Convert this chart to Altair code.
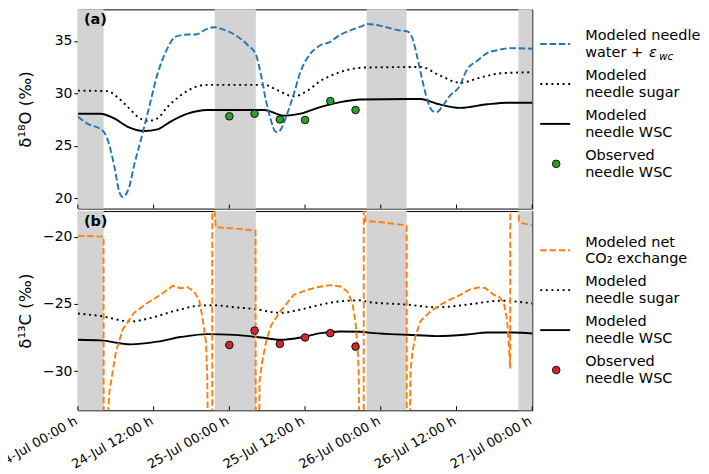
import json
import altair as alt
import pandas as pd

FONT = "DejaVu Sans"
W, H = 455, 199.5

# ---------------- data ----------------
tick_hours = [0, 12, 24, 36, 48, 60, 72]
tick_labels = ["24-Jul 00:00 h", "24-Jul 12:00 h", "25-Jul 00:00 h", "25-Jul 12:00 h",
               "26-Jul 00:00 h", "26-Jul 12:00 h", "27-Jul 00:00 h"]

night_start = [0.0, 21.7, 45.75, 69.8]
night_end = [4.07, 28.2, 52.1, 72.0]

# (a) delta 18O
water_h = [0, 1.5, 3.9, 4.7, 5.75, 6.55, 7.1, 8.1, 8.9, 10, 11.3, 12.6, 14.2, 15.5, 17.4, 18.7, 20.3, 21.6,
           22.9, 24.8, 26.9, 28.2, 29.0, 29.8, 30.6, 31.3, 31.7, 32.1, 33.2, 34.2, 35.3, 36.4, 38.5, 40,
           41.1, 43.2, 44.8, 45.9, 48.5, 50.9, 52.2, 53.0, 53.8, 54.6, 55.4, 56.2, 56.9, 57.7, 59.0, 60.4,
           61.7, 63.3, 64.9, 66.4, 68.5, 72]
water_v = [27.75, 27.1, 26.45, 25.6, 23.1, 20.6, 20.1, 21.0, 23.1, 25.6, 28.7, 31.8, 34.3, 35.4, 35.6, 35.6,
           36.1, 36.3, 36.1, 35.6, 34.6, 33.7, 31.8, 29.3, 27.4, 26.35, 26.3, 26.5, 28.1, 29.9, 32.1, 33.4,
           34.6, 34.9, 35.4, 36.0, 36.35, 36.6, 36.35, 36.0, 35.9, 35.25, 33.4, 31.2, 29.3, 28.3, 28.2, 28.7,
           29.8, 30.6, 32.3, 33.1, 33.85, 34.1, 34.3, 34.25]

sugarO_h = [0, 4.7, 6.3, 7.9, 9.5, 11.0, 12.6, 14.2, 16.3, 18.4, 20.5, 24.8, 29.5, 31.6, 34.2, 36.4, 38.5,
            40.6, 43.7, 45.5, 54.3, 57.5, 60.6, 63.8, 67.0, 72]
sugarO_v = [30.25, 30.2, 29.6, 28.7, 27.75, 27.35, 27.6, 28.7, 29.8, 30.55, 30.8, 30.8, 30.8, 30.3, 29.7,
            30.25, 31.2, 31.8, 32.35, 32.45, 32.5, 31.65, 31.0, 31.5, 31.9, 32.0]

wscO_h = [0, 3.6, 5.75, 7.9, 10.5, 12.6, 14.7, 17.4, 20.5, 29.5, 32.7, 35.3, 38.5, 41.6, 44.8, 54.3, 56.9,
          60.6, 64.9, 68.0, 72]
wscO_v = [28.05, 28.05, 27.6, 26.8, 26.4, 26.55, 27.3, 28.05, 28.4, 28.4, 27.85, 28.05, 28.7, 29.15, 29.4,
          29.45, 29.0, 28.6, 28.95, 29.1, 29.1]

obs_h = [24, 28, 32, 36, 40, 44]
obsO_v = [27.8, 28.05, 27.5, 27.45, 29.25, 28.4]

# (b) delta 13C
co2_h = [0, 3.9, 4.07, 4.12, 4.6, 4.75, 5.0, 5.5, 6.0, 7.1, 8.9, 11.0, 13.1, 15.0, 16.3, 17.4, 18.4, 19.2,
         19.7, 20.3, 20.5, 20.7, 21.28, 21.3, 21.85, 25.0, 28.15, 28.25, 28.6, 28.8, 29.2, 29.8, 30.6, 32.1,
         34.2, 36.4, 37.9, 40.0, 41.6, 42.7, 43.5, 44.0, 44.3, 44.5, 44.7, 45.28, 45.3, 45.6, 48.5, 51.9,
         52.1, 52.15, 52.5, 52.7, 53.0, 53.5, 54.3, 55.9, 57.5, 59.0, 60.6, 62.2, 63.8, 64.6, 65.9, 66.7,
         67.5, 68.0, 68.3, 68.5, 68.55, 69.5, 69.65, 69.9, 70.4, 71.7, 72.0]
co2_v = [-19.93, -20.0, -20.0, -60, -60, -33.5, -31.5, -30.05, -28.6, -26.9, -25.66, -24.93, -24.32, -23.66,
         -23.83, -23.76, -24.07, -24.68, -25.9, -27.86, -30.3, -40, -60, -16, -19.3, -19.4, -19.56, -60, -40,
         -30.7, -29.3, -27.86, -26.6, -25.54, -24.32, -23.95, -23.76, -23.6, -23.7, -24.07, -24.93, -26.4,
         -28.1, -30.05, -40, -60, -16, -18.83, -18.95, -19.15, -19.2, -60, -40, -30.05, -28.6, -27.37,
         -26.27, -25.54, -25.05, -24.68, -24.32, -23.9, -23.76, -23.83, -24.32, -24.44, -24.93, -26.15,
         -28.1, -29.8, -5, -5, -16, -18.83, -19.0, -19.12, -19.15]

sugarC_h = [0, 3.6, 8.4, 11.6, 15.2, 19.5, 21.7, 24.8, 27.9, 32.1, 35.3, 38.5, 41.6, 44.8, 45.9, 52.2, 56.9,
            61.7, 67.0, 72]
sugarC_v = [-25.71, -25.9, -26.3, -26.03, -25.54, -25.12, -25.1, -25.25, -25.37, -25.66, -25.41, -25.05,
            -24.8, -24.73, -24.85, -25.05, -25.25, -25.05, -24.76, -24.97]

wscC_h = [0, 3.6, 8.4, 12.6, 16.3, 20.5, 24.8, 29.0, 32.1, 35.3, 38.5, 41.6, 44.8, 46.9, 52.2, 56.9, 61.7,
          64.9, 69.1, 72]
wscC_v = [-27.66, -27.71, -28.0, -27.8, -27.46, -27.24, -27.3, -27.49, -27.66, -27.49, -27.17, -27.05,
          -27.07, -27.17, -27.29, -27.39, -27.27, -27.12, -27.12, -27.2]

obsC_v = [-28.05, -26.98, -27.97, -27.49, -27.17, -28.17]

legend_a = [["Modeled needle", "water + "], ["Modeled", "needle sugar"],
            ["Modeled", "needle WSC"], ["Observed", "needle WSC"]]
legend_b = [["Modeled net", "CO\u2082 exchange"], ["Modeled", "needle sugar"],
            ["Modeled", "needle WSC"], ["Observed", "needle WSC"]]

BLUE, ORANGE, GREEN, RED = "#1f77b4", "#ff7f0e", "#2ca02c", "#d62728"
DASH, DOT = [6.5, 2.8], [2, 3.6]
LW = 1.9
TICK_FS = 14
XLAB_FS = 13
LEG_FS = 14.5
LEG_X = 508

# ---------------- helpers ----------------
x_scale = alt.Scale(domain=[0, 72], nice=False, zero=False)
label_expr = json.dumps(tick_labels) + "[round(datum.value / 12)]"


def x_axis(show):
    if not show:
        return None
    return alt.Axis(values=tick_hours, labelExpr=label_expr, labelAngle=330, labelAlign="right",
                    labelBaseline="top", ticks=False, domain=False, grid=False, labelPadding=4,
                    labelOffset=-5, labelOverlap=False, labelFontSize=XLAB_FS, labelFlush=False)


def panel(series, obs_v, obs_color, ydom, yticks, ytitle, show_x, tag, legend_text, first_color, leg_base):
    xdef = lambda f: alt.X(f"{f}:Q", scale=x_scale, axis=x_axis(show_x), title=None)
    yaxis = alt.Axis(values=yticks, tickSize=4, labelPadding=2, domain=False, grid=False,
                     labelFontSize=TICK_FS, title=ytitle, titleX=-47, titleAngle=270,
                     titleBaseline="alphabetic", titleFontSize=16.5, titleFontWeight="normal")
    ydef = alt.Y("v:Q", scale=alt.Scale(domain=ydom, nice=False, zero=False), axis=yaxis, title=ytitle)

    nights = pd.DataFrame({"s": night_start, "e": night_end})
    bands = alt.Chart(nights).mark_rect(color="#d3d3d3").encode(x=xdef("s"), x2="e:Q")

    layers = [bands]
    for (hh, vv, color, dash) in series:
        df = pd.DataFrame({"h": hh, "v": vv})
        interp = "linear" if color == ORANGE else "monotone"
        kw = dict(color=color, strokeWidth=LW, interpolate=interp, clip=True)
        if dash is not None:
            kw["strokeDash"] = dash
        layers.append(alt.Chart(df).mark_line(**kw).encode(x=xdef("h"), y=ydef))

    pts = pd.DataFrame({"h": obs_h, "v": obs_v})
    layers.append(alt.Chart(pts).mark_circle(size=58, color=obs_color, stroke="black", strokeWidth=0.9,
                                             opacity=1).encode(x=xdef("h"), y=ydef))

    ticks = pd.DataFrame({"t": tick_hours})
    layers.append(alt.Chart(ticks).mark_rule(color="black", strokeWidth=1).encode(
        x=xdef("t"), y=alt.value(H), y2=alt.value(H - 4)))

    one = alt.Data(values=[{"k": 1}])
    layers.append(alt.Chart(one).mark_text(text=tag, fontWeight="bold", fontSize=14.5, align="left",
                                           baseline="alphabetic", font=FONT).encode(
        x=alt.value(6), y=alt.value(15)))

    # legend
    styles = [(first_color, DASH), ("black", DOT), ("black", None)]
    for i, lines in enumerate(legend_text):
        s = leg_base + 40 * i
        if i < 3:
            col, dash = styles[i]
            kw = dict(color=col, strokeWidth=LW)
            if dash is not None:
                kw["strokeDash"] = dash
            layers.append(alt.Chart(one).mark_rule(**kw).encode(
                x=alt.value(LEG_X - 45), x2=alt.value(LEG_X - 15), y=alt.value(s)))
        else:
            layers.append(alt.Chart(one).mark_point(filled=True, size=58, fill=obs_color, stroke="black",
                                                    strokeWidth=0.9, opacity=1, shape="circle").encode(
                x=alt.value(LEG_X - 29), y=alt.value(s)))
        for j, line in enumerate(lines):
            layers.append(alt.Chart(one).mark_text(text=line, fontSize=LEG_FS, align="left",
                                                   baseline="alphabetic", font=FONT).encode(
                x=alt.value(LEG_X), y=alt.value(s - 3.7 + 16.7 * j)))
    if first_color == BLUE:
        s = leg_base
        layers.append(alt.Chart(one).mark_text(text="\u03b5", fontSize=LEG_FS, fontStyle="italic",
                                               align="left", baseline="alphabetic", font=FONT).encode(
            x=alt.value(LEG_X + 64), y=alt.value(s + 13)))
        layers.append(alt.Chart(one).mark_text(text="wc", fontSize=10.5, fontStyle="italic",
                                               align="left", baseline="alphabetic", font=FONT).encode(
            x=alt.value(LEG_X + 74), y=alt.value(s + 16)))

    return alt.layer(*layers).properties(width=W, height=H)


top = panel([(sugarO_h, sugarO_v, "black", DOT), (wscO_h, wscO_v, "black", None),
             (water_h, water_v, BLUE, DASH)],
            obsO_v, GREEN, [19.0, 38.0], [20, 25, 30, 35], "\u03b4\u00b9\u2078O (\u2030)", False, "(a)",
            legend_a, BLUE, 34.7)

bottom = panel([(sugarC_h, sugarC_v, "black", DOT), (wscC_h, wscC_v, "black", None),
                (co2_h, co2_v, ORANGE, DASH)],
               obsC_v, RED, [-32.9, -18.1], [-30, -25, -20], "\u03b4\u00b9\u00b3C (\u2030)", True, "(b)",
               legend_b, ORANGE, 39.2)

chart = alt.vconcat(top, bottom, spacing=0).resolve_scale(y="independent").properties(
    padding={"left": -15, "top": 0, "right": 0, "bottom": 40}
).configure(font=FONT).configure_view(stroke="black", strokeWidth=1).configure_axis(
    labelColor="black", titleColor="black", tickColor="black", labelFont=FONT, titleFont=FONT)

chart.save("out.html", embed_options={"renderer": "svg", "actions": False})
